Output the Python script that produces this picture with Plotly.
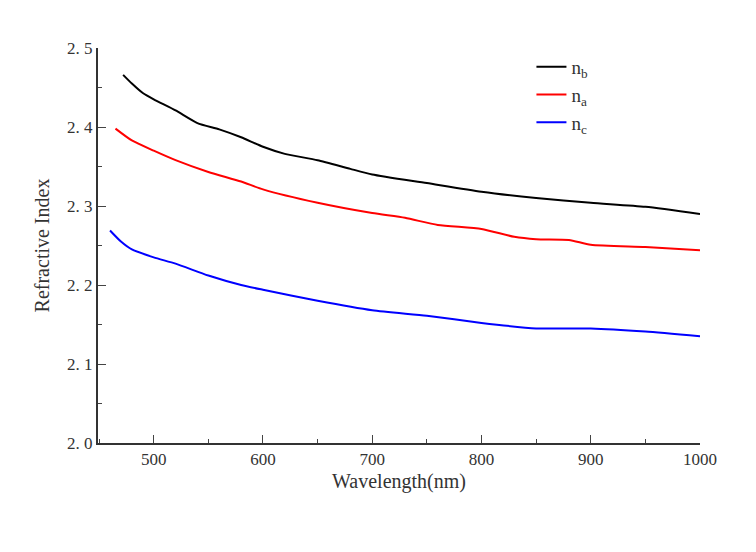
import plotly.graph_objects as go

wl_b=[472,480,490,500,520,540,560,580,600,620,650,680,700,750,800,850,900,950,1000]
n_b=[2.466,2.455,2.443,2.435,2.421,2.405,2.397,2.387,2.375,2.366,2.358,2.347,2.340,2.329,2.318,2.310,2.304,2.299,2.290]
wl_a=[465,480,500,520,550,580,600,650,700,730,760,800,830,850,880,900,950,1000]
n_a=[2.398,2.383,2.370,2.358,2.343,2.331,2.321,2.304,2.291,2.285,2.276,2.271,2.261,2.258,2.257,2.251,2.248,2.244]
wl_c=[460,470,480,500,520,550,580,600,650,700,750,800,850,900,950,1000]
n_c=[2.269,2.255,2.245,2.235,2.227,2.212,2.200,2.194,2.180,2.168,2.161,2.152,2.145,2.145,2.141,2.135]

fig=go.Figure()
fig.add_trace(go.Scatter(x=wl_b,y=n_b,mode="lines",name="n<sub>b</sub>",line=dict(color="black",width=2,shape="spline",smoothing=0.6)))
fig.add_trace(go.Scatter(x=wl_a,y=n_a,mode="lines",name="n<sub>a</sub>",line=dict(color="red",width=2,shape="spline",smoothing=0.6)))
fig.add_trace(go.Scatter(x=wl_c,y=n_c,mode="lines",name="n<sub>c</sub>",line=dict(color="blue",width=2,shape="spline",smoothing=0.6)))

fig.update_layout(
    width=756,height=552,
    margin=dict(l=90,r=64,t=40,b=117),
    plot_bgcolor="white",paper_bgcolor="white",
    font=dict(family="Liberation Serif",size=17,color="#333"),
    legend=dict(x=0.72,y=1.0,xanchor="left",yanchor="top",bgcolor="rgba(0,0,0,0)",font=dict(size=19)),
)
fig.update_xaxes(range=[449,1000],tickvals=[500,600,700,800,900,1000],ticks="inside",ticklen=8,
                 showline=True,linecolor="#333",linewidth=2,showgrid=False,zeroline=False,
                 title=dict(text="Wavelength(nm)",standoff=6),
                 minor=dict(tickvals=[450,550,650,750,850,950],ticks="inside",ticklen=4))
fig.update_yaxes(range=[2.0,2.5],tickvals=[2.0,2.1,2.2,2.3,2.4,2.5],ticktext=["2. 0","2. 1","2. 2","2. 3","2. 4","2. 5"],
                 ticks="inside",ticklen=8,showline=True,linecolor="#333",linewidth=2,showgrid=False,zeroline=False,
                 title=dict(text="Refractive Index",standoff=12),
                 minor=dict(tickvals=[2.05,2.15,2.25,2.35,2.45],ticks="inside",ticklen=4))

fig.write_html("out.html")
